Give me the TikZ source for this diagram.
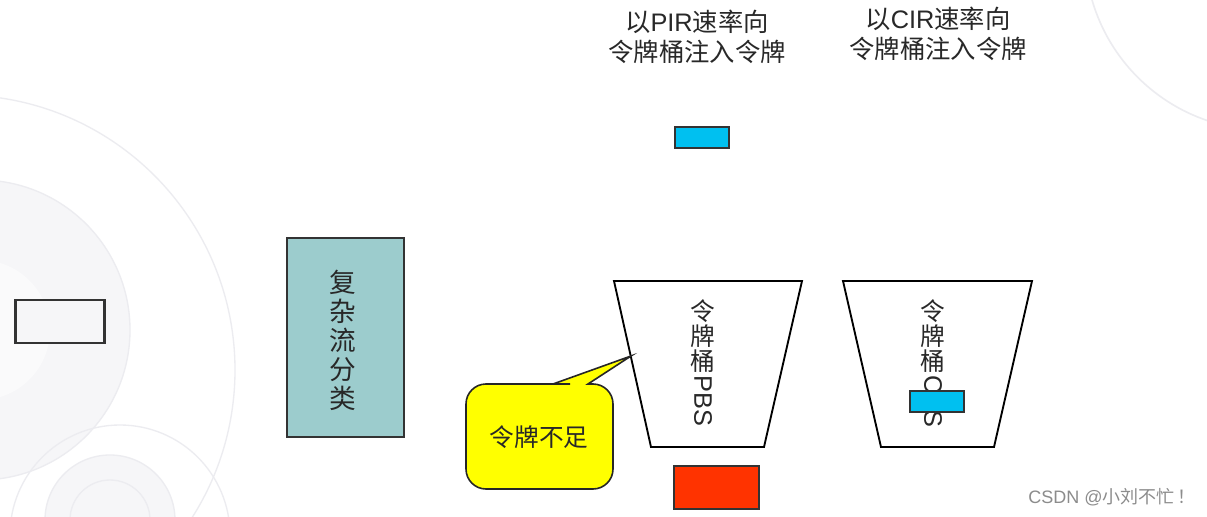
\documentclass[tikz,border=0pt]{standalone}
\usepackage{fontspec}
\setmainfont{Liberation Sans}
\newfontfamily\cjk{Noto Sans CJK SC}
\usepackage{graphicx}
\definecolor{tealbox}{RGB}{156,204,205}
\definecolor{skyblue}{RGB}{0,192,240}
\definecolor{redbox}{RGB}{255,51,0}
\definecolor{calloutyellow}{RGB}{255,255,0}
\definecolor{bgcircle}{RGB}{246,246,248}
\definecolor{bgline}{RGB}{236,236,240}
\definecolor{txtgray}{RGB}{40,40,40}
\tikzset{
  box/.style={draw=black!80, line width=1.2pt, inner sep=0pt},
  bucket/.style={draw=black, line width=1.4pt, fill=white},
  vtext/.style={align=center, inner sep=0pt, text=txtgray},
  toptext/.style={align=center, inner sep=0pt, text=txtgray, font=\fontsize{19}{22}\selectfont},
}
\begin{document}
\begin{tikzpicture}[x=0.75pt, y=-0.75pt]
\useasboundingbox (0,0) rectangle (1207,517);
\fill[white] (0,0) rectangle (1207,517);
% faint background decoration
\begin{scope}
\clip (0,0) rectangle (1207,517);
\fill[bgcircle] (-20,330) circle (150);
\fill[white!50!bgcircle] (-20,330) circle (70);
\draw[bgline, line width=1pt] (-20,330) circle (150);
\draw[bgline, line width=1pt] (-40,370) circle (275);
\fill[bgcircle] (110,520) circle (65);
\draw[bgline, line width=1pt] (110,520) circle (65);
\draw[bgline, line width=1pt] (110,520) circle (40);
\draw[bgline, line width=1pt] (120,535) circle (110);
\draw[bgline, line width=1.2pt] (1265,-50) circle (180);
\end{scope}
% left small box
\node[box, fill=bgcircle, minimum width=66pt, minimum height=32.25pt] (small) at (60,321.5) {};
\draw[black!80, line width=2.5pt] (small.north west) -- (small.south west);
\draw[black!80, line width=2.5pt] (small.north east) -- (small.south east);
% classification box
\node[box, fill=tealbox, minimum width=87.75pt, minimum height=149.25pt] (cls) at (345.5,337.5) {};
\node[vtext, font=\fontsize{20}{21.75}\selectfont\cjk] (clstext) at (343,340) {复\\杂\\流\\分\\类};
% top texts
\node[toptext] (pirtext) at (697,37) {{\cjk 以}PIR{\cjk 速率向}\\{\cjk 令牌桶注入令牌}};
\node[toptext] (cirtext) at (938,34) {{\cjk 以}CIR{\cjk 速率向}\\{\cjk 令牌桶注入令牌}};
% token falling into PBS
\node[box, fill=skyblue, minimum width=40.5pt, minimum height=15.75pt] (tokpir) at (702,137.5) {};
% PBS bucket
\coordinate (pa) at (614,281);
\coordinate (pb) at (802,281);
\coordinate (pc) at (764,447);
\coordinate (pd) at (651,447);
\draw[bucket] (pa) -- (pb) -- (pc) -- (pd) -- cycle;
\node[vtext, font=\fontsize{18.5}{18.75}\selectfont\cjk] (pbschars) at (703,336) {令\\牌\\桶};
\node[vtext, font=\fontsize{19}{20}\selectfont, anchor=north, yshift=-2pt] (pbslatin) at (pbschars.south) {\rotatebox{-90}{PBS}};
% CBS bucket
\coordinate (ca) at (843,281);
\coordinate (cb) at (1032,281);
\coordinate (cc) at (994,447);
\coordinate (cd) at (881,447);
\draw[bucket] (ca) -- (cb) -- (cc) -- (cd) -- cycle;
\node[vtext, font=\fontsize{18.5}{18.75}\selectfont\cjk] (cbschars) at (933,336) {令\\牌\\桶};
\node[vtext, font=\fontsize{19}{20}\selectfont, anchor=north, yshift=-2pt] (cbslatin) at (cbschars.south) {\rotatebox{-90}{CBS}};
\node[box, fill=skyblue, minimum width=40.5pt, minimum height=15.75pt] (tokcir) at (937,401.5) {};
% red packet
\node[box, fill=redbox, minimum width=63.75pt, minimum height=32.25pt] (packet) at (716.5,487.5) {};
% callout
\coordinate (tip) at (631,356);
\draw[draw=black!85, line width=1.2pt, fill=calloutyellow]
  (466,430) [rounded corners=15pt] -- (466,384) -- (550,384) [sharp corners] -- (553,384) -- (tip) -- (588,384) -- (591,384)
  [rounded corners=15pt] -- (613,384) -- (613,489) -- (466,489) -- cycle;
\node[inner sep=0pt, text=txtgray, font=\fontsize{18.5}{20}\selectfont\cjk] (lack) at (539,437) {令牌不足};
% watermark
\node[inner sep=0pt, text=black!45, font=\fontsize{13.5}{15}\selectfont] (wm) at (1112,497) {CSDN @{\cjk 小刘不忙}\,{\cjk ！}};
\end{tikzpicture}
\end{document}
